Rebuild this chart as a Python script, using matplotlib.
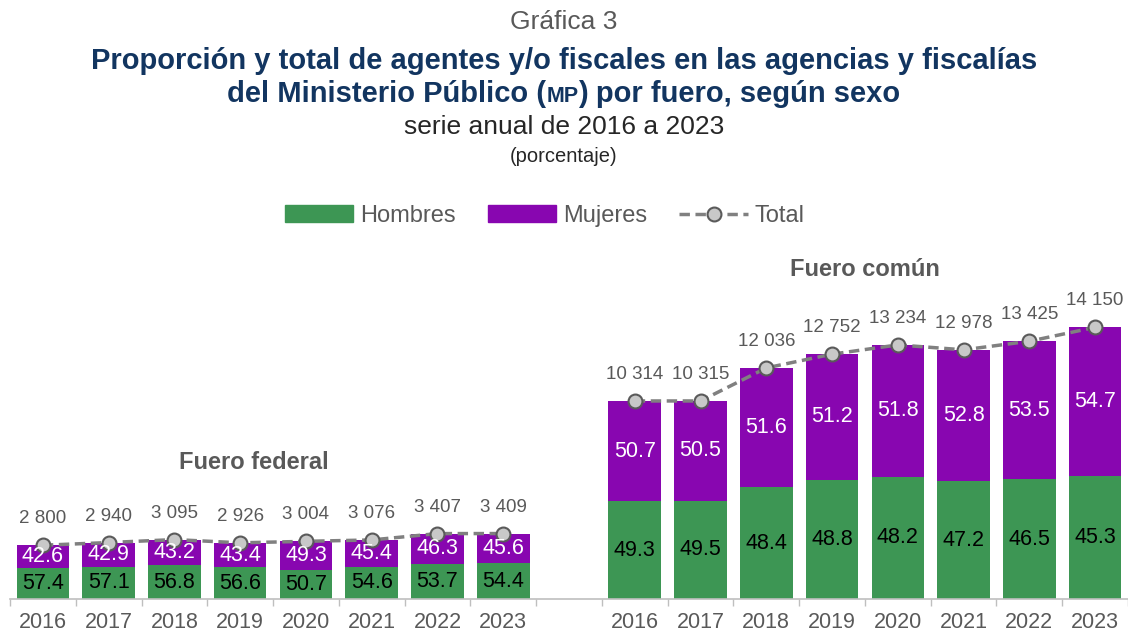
import numpy as np
import matplotlib
matplotlib.use("Agg")
from matplotlib import pyplot as plt
from matplotlib.patches import Patch
from matplotlib.lines import Line2D

plt.rcParams['font.family'] = ['Liberation Sans', 'DejaVu Sans']

years = ['2016', '2017', '2018', '2019', '2020', '2021', '2022', '2023']
fed_total = [2800, 2940, 3095, 2926, 3004, 3076, 3407, 3409]
fed_hombres = [57.4, 57.1, 56.8, 56.6, 50.7, 54.6, 53.7, 54.4]
fed_mujeres = [42.6, 42.9, 43.2, 43.4, 49.3, 45.4, 46.3, 45.6]
com_total = [10314, 10315, 12036, 12752, 13234, 12978, 13425, 14150]
com_hombres = [49.3, 49.5, 48.4, 48.8, 48.2, 47.2, 46.5, 45.3]
com_mujeres = [50.7, 50.5, 51.6, 51.2, 51.8, 52.8, 53.5, 54.7]

green = '#3d9654'
purple = '#8806b0'
grey_txt = '#595959'
navy = '#123560'

fig = plt.figure(figsize=(11.28, 6.35), dpi=100)
ax = fig.add_axes([10 / 1128, 36 / 635, 1 - 10 / 1128, 336 / 635])

def draw_group(x0, totals, hom, muj):
    x = np.arange(len(totals)) + x0
    tot = np.array(totals, dtype=float)
    h = tot * np.array(hom) / 100
    m = tot * np.array(muj) / 100
    ax.bar(x, h, width=0.8, color=green, zorder=2)
    ax.bar(x, m, width=0.8, bottom=h, color=purple, zorder=2)
    for xi, hi, mi, ph, pm in zip(x, h, m, hom, muj):
        ax.text(xi, hi / 2, f'{ph:.1f}', ha='center', va='center',
                fontsize=15.5, color='black', zorder=4)
        ax.text(xi, hi + mi / 2, f'{pm:.1f}', ha='center', va='center',
                fontsize=15.5, color='white', zorder=4)
    ax.plot(x, tot, color='#808080', ls='--', lw=2.5, dashes=(3, 1.6),
            marker='o', ms=10, mfc='#c8c8c8', mec='#5a5a5a', mew=1.5, zorder=3)
    for xi, t in zip(x, totals):
        lab = f'{t:,}'.replace(',', ' ')
        ax.annotate(lab, (xi, t), xytext=(0, 19), textcoords='offset points',
                    ha='center', va='center', fontsize=13.5, color=grey_txt)

draw_group(0, fed_total, fed_hombres, fed_mujeres)
draw_group(9, com_total, com_hombres, com_mujeres)

ax.text(3.2, 7130, 'Fuero federal', ha='center', va='center', fontsize=17,
        fontweight='bold', color=grey_txt, clip_on=False)
ax.text(12.5, 17180, 'Fuero común', ha='center', va='center', fontsize=17,
        fontweight='bold', color=grey_txt, clip_on=False)

ax.set_xlim(-0.5, 16.5)
ax.set_ylim(0, 17500)
pos = list(range(8)) + list(range(9, 17))
ax.set_xticks(pos)
ax.set_xticklabels(years + years, fontsize=15.5, color=grey_txt)
ax.set_xticks(np.arange(-0.5, 17, 1), minor=True)
ax.tick_params(axis='x', which='major', length=0, pad=9)
ax.tick_params(axis='x', which='minor', length=5, color='#bfbfbf', width=1)
ax.set_yticks([])
for s in ['left', 'top', 'right']:
    ax.spines[s].set_visible(False)
ax.spines['bottom'].set_color('#bfbfbf')
ax.spines['bottom'].set_linewidth(1.2)

# titulos
fig.text(0.5, 1 - 22 / 635, 'Gráfica 3', ha='center', va='center',
         fontsize=19, color=grey_txt)
fig.text(0.5, 1 - 61 / 635,
         'Proporción y total de agentes y/o fiscales en las agencias y fiscalías',
         ha='center', va='center', fontsize=21, fontweight='bold', color=navy)

# segunda linea con MP en versalitas
r = fig.canvas.get_renderer()
parts = [('del Ministerio Público (', 21), ('MP', 15.5), (') por fuero, según sexo', 21)]
objs = []
for s, fs in parts:
    objs.append(fig.text(0, 0, s, ha='left', va='baseline',
                         fontsize=fs, fontweight='bold', color=navy))
widths = [o.get_window_extent(r).width for o in objs]
x_px = (1128 - sum(widths)) / 2
y_base = 1 - 102 / 635
for o, w in zip(objs, widths):
    o.set_position((x_px / 1128, y_base))
    x_px += w

fig.text(0.5, 1 - 127 / 635, 'serie anual de 2016 a 2023', ha='center',
         va='center', fontsize=19, color='#262626')
fig.text(0.5, 1 - 156 / 635, '(porcentaje)', ha='center', va='center',
         fontsize=14.5, color='#262626')

handles = [Patch(color=green, label='Hombres'),
           Patch(color=purple, label='Mujeres'),
           Line2D([0], [0], color='#808080', ls='--', lw=2.5, dashes=(3, 1.6),
                  marker='o', ms=10, mfc='#c8c8c8', mec='#5a5a5a', mew=1.5,
                  label='Total')]
leg = fig.legend(handles=handles, loc='center', bbox_to_anchor=(0.483, 1 - 216 / 635),
                 ncol=3, frameon=False, fontsize=17, handlelength=2.9,
                 handletextpad=0.3, columnspacing=1.35)
for t in leg.get_texts():
    t.set_color(grey_txt)

fig.savefig('out.png', dpi=100)
